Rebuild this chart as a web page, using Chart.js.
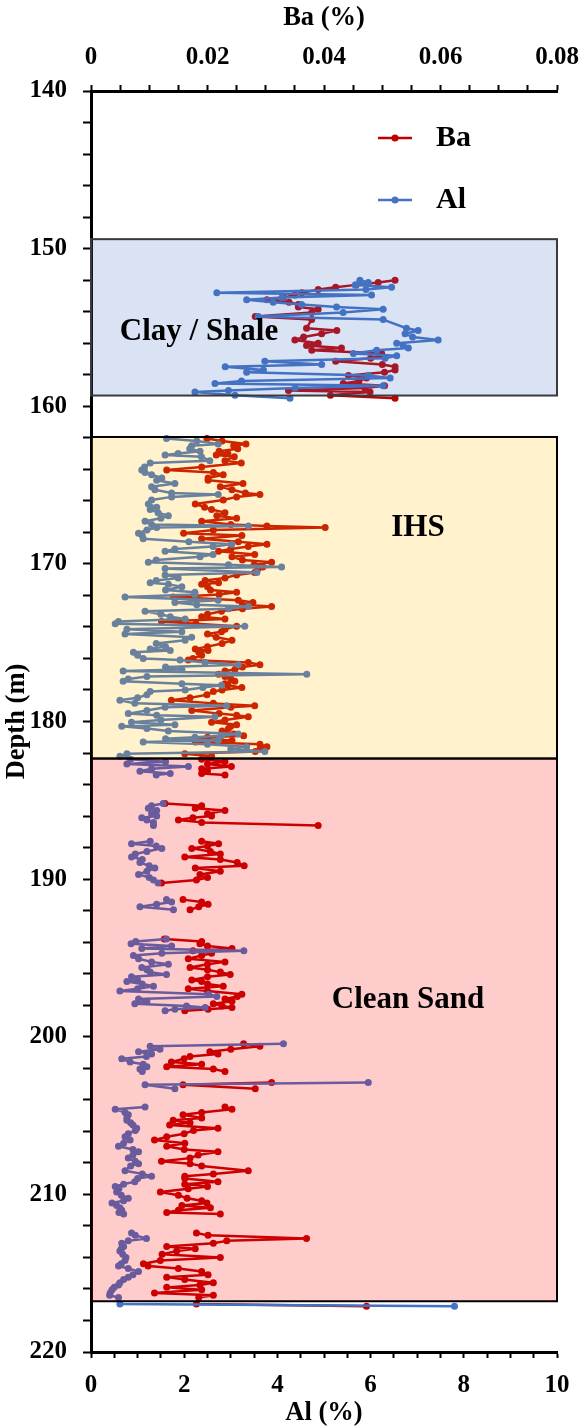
<!DOCTYPE html>
<html lang="en">
<head>
<meta charset="UTF-8">
<title>Ba / Al depth profile</title>
<script src="https://cdn.jsdelivr.net/npm/chart.js@4.4.1/dist/chart.umd.min.js"></script>
<style>
    body { margin: 0; background: #fff; }
    #box { width: 586px; height: 1426px; }
</style>
</head>
<body>
<div id="box"><canvas id="mychart" width="586" height="1426"></canvas></div>
<script>
// depth (m), Ba (%), Al (%) - same sample depths for both elements
const clayDepth = [152.0, 152.15, 152.3, 152.45, 152.6, 152.8, 152.95, 153.1, 153.25, 153.4,
    153.55, 153.7, 153.85, 154.05, 154.3, 154.5, 155.05, 155.2, 155.4, 155.6,
    155.8, 156.0, 156.15, 156.3, 156.45, 156.65, 156.8, 156.95, 157.15, 157.35,
    157.5, 157.7, 157.85, 158.05, 158.2, 158.4, 158.55, 158.7, 158.85, 159.0,
    159.1, 159.3, 159.5]
const clayAl = [5.77, 5.95, 5.67, 6.45, 5.90, 2.70, 6.02, 4.10, 3.34, 3.91,
    4.52, 5.27, 6.27, 5.41, 3.59, 6.27, 6.77, 7.02, 6.74, 6.90,
    7.45, 6.56, 6.70, 6.81, 6.13, 5.63, 6.56, 6.31, 3.73, 4.95,
    2.88, 3.70, 3.34, 5.95, 6.42, 3.23, 2.66, 6.27, 4.38, 2.95,
    2.23, 3.09, 4.27]
const clayBa = [0.0522, 0.0493, 0.0455, 0.0420, 0.0390, 0.0362, 0.0350, 0.0330, 0.0302, 0.0340,
    0.0356, 0.0356, 0.0390, 0.0379, 0.0282, 0.0379, 0.0370, 0.0422, 0.0396, 0.0365,
    0.0350, 0.0390, 0.0370, 0.0430, 0.0379, 0.0499, 0.0500, 0.0480, 0.0420, 0.0500,
    0.0522, 0.0522, 0.0504, 0.0442, 0.0473, 0.0460, 0.0433, 0.0504, 0.0470, 0.0339,
    0.0479, 0.0411, 0.0522]

const ihsDepth = [162.05, 162.2, 162.4, 162.5, 162.7, 162.85, 163.0, 163.1,
    163.2, 163.45, 163.6, 163.85, 164.05, 164.2, 164.35, 164.55,
    164.7, 164.9, 165.1, 165.3, 165.5, 165.6, 165.75, 165.95,
    166.2, 166.4, 166.55, 166.75, 166.95, 167.1, 167.3, 167.5,
    167.6, 167.7, 167.85, 168.05, 168.2, 168.4, 168.6, 168.75,
    168.9, 169.05, 169.2, 169.4, 169.55, 169.75, 169.9, 170.05,
    170.2, 170.3, 170.55, 170.7, 170.9, 171.05, 171.2, 171.3,
    171.45, 171.65, 171.8, 171.95, 172.1, 172.3, 172.45, 172.6,
    172.7, 172.85, 173.0, 173.2, 173.35, 173.5, 173.65, 173.8,
    173.95, 174.15, 174.3, 174.45, 174.65, 174.85, 175.05, 175.25,
    175.4, 175.5, 175.6, 175.8, 176.0, 176.1, 176.25, 176.4,
    176.55, 176.7, 176.8, 177.0, 177.15, 177.3, 177.45, 177.6,
    177.7, 177.85, 178.0, 178.1, 178.3, 178.5, 178.65, 178.85,
    179.0, 179.1, 179.3, 179.5, 179.6, 179.7, 179.9, 180.05,
    180.2, 180.3, 180.45, 180.6, 180.8, 180.9, 181.0, 181.1,
    181.2, 181.3, 181.45, 181.6, 181.75, 181.9, 182.05, 182.2]
const ihsAl = [1.62, 2.27, 2.73, 2.16, 2.12, 2.34, 1.87, 1.59,
    2.37, 2.55, 1.27, 1.15, 1.09, 1.16, 1.30, 1.52,
    1.41, 1.80, 1.30, 1.37, 1.73, 2.73, 1.73, 1.30,
    1.23, 1.41, 1.27, 1.44, 1.66, 1.50, 1.16, 1.30,
    3.38, 1.41, 1.20, 1.02, 1.10, 1.12, 2.10, 3.02,
    2.62, 1.80, 1.59, 2.62, 2.34, 1.40, 1.23, 2.95,
    4.09, 1.59, 3.56, 1.59, 1.87, 1.40, 1.27, 1.66,
    1.95, 1.60, 2.23, 2.23, 0.73, 2.73, 1.80, 2.27,
    3.38, 2.95, 1.16, 1.50, 1.70, 2.02, 0.59, 0.52,
    3.30, 0.77, 1.95, 0.73, 2.16, 2.02, 1.40, 1.60,
    1.27, 1.70, 0.91, 1.00, 1.12, 1.91, 2.45, 3.16,
    1.60, 1.95, 0.69, 4.63, 1.20, 0.80, 0.69, 1.95,
    2.80, 2.40, 2.02, 1.27, 1.20, 1.00, 0.62, 0.94,
    2.91, 1.59, 1.20, 0.80, 1.41, 2.66, 1.50, 0.87,
    1.80, 0.66, 1.20, 1.66, 3.16, 2.80, 2.23, 1.60,
    2.73, 1.12, 2.50, 3.34, 3.00, 3.73, 0.77, 0.62]
const ihsBa = [0.0199, 0.0225, 0.0266, 0.0245, 0.0252, 0.0220, 0.0235, 0.0215,
    0.0246, 0.0230, 0.0258, 0.0190, 0.0130, 0.0210, 0.0227, 0.0201,
    0.0201, 0.0261, 0.0222, 0.0242, 0.0265, 0.0290, 0.0250, 0.0227,
    0.0179, 0.0195, 0.0207, 0.0230, 0.0216, 0.0250, 0.0190, 0.0240,
    0.0302, 0.0402, 0.0210, 0.0159, 0.0259, 0.0190, 0.0253, 0.0302,
    0.0270, 0.0240, 0.0219, 0.0281, 0.0242, 0.0260, 0.0310, 0.0280,
    0.0295, 0.0287, 0.0281, 0.0250, 0.0230, 0.0196, 0.0219, 0.0190,
    0.0200, 0.0205, 0.0250, 0.0220, 0.0141, 0.0253, 0.0278, 0.0260,
    0.0310, 0.0260, 0.0224, 0.0200, 0.0190, 0.0230, 0.0121, 0.0180,
    0.0250, 0.0230, 0.0224, 0.0200, 0.0215, 0.0242, 0.0225, 0.0200,
    0.0179, 0.0201, 0.0185, 0.0190, 0.0175, 0.0167, 0.0270, 0.0290,
    0.0260, 0.0247, 0.0230, 0.0219, 0.0230, 0.0240, 0.0247, 0.0230,
    0.0235, 0.0259, 0.0225, 0.0210, 0.0199, 0.0170, 0.0138, 0.0210,
    0.0281, 0.0240, 0.0173, 0.0220, 0.0250, 0.0270, 0.0230, 0.0207,
    0.0250, 0.0240, 0.0236, 0.0225, 0.0245, 0.0262, 0.0200, 0.0179,
    0.0242, 0.0179, 0.0290, 0.0302, 0.0290, 0.0282, 0.0161, 0.0207]

// null = no samples (line is broken there)
const sandDepth = [182.4, 182.55, 182.7, 182.85, 183.0, 183.15, 183.3, 183.4, null,
    185.2, 185.35, 185.5, 185.65, 185.85, 186.0, 186.1, 186.25, 186.4, 186.6, null,
    187.6, 187.75, 187.9, 188.05, 188.25, 188.4, 188.6, 188.75,
    188.95, 189.15, 189.3, 189.5, 189.7, 189.9, 190.05, 190.25, null,
    191.3, 191.45, 191.6, 191.75, 191.95, null,
    193.8, 193.95, 194.1, 194.25, 194.4, 194.55, 194.7, 194.85, 195.05, 195.25,
    195.4, 195.6, 195.75, 195.9, 196.05, 196.2, 196.4, 196.5, 196.65, 196.8,
    196.95, 197.1, 197.3, 197.45, 197.6, 197.75, 197.9, 198.05, 198.15, 198.25,
    198.35, null,
    200.45, 200.6, 200.8, 200.95, 201.1, 201.25, 201.4, 201.6, 201.75, 201.9,
    202.05, 202.2, null,
    202.9, 203.05, 203.3, null,
    204.45, 204.6, 204.8, 204.95, 205.15, 205.3, 205.45, 205.6, 205.8, 205.95,
    206.15, 206.35, 206.55, 206.75, 206.95, 207.15, 207.3, 207.5, 207.7, 207.9,
    208.05, 208.2, 208.5, 208.7, 208.85, 209.0, 209.2, 209.35, 209.5, 209.65,
    209.85, 210.05, 210.25, 210.4, 210.55, 210.7, 210.85, 211.0, 211.15, 211.25, null,
    212.45, 212.6, 212.8, 212.95, 213.1, 213.3, 213.45, 213.6, 213.8, 214.0,
    214.2, 214.4, 214.55, 214.7, 214.9, 215.1, 215.25, 215.4, 215.6, 215.75,
    215.9, 216.05, 216.25, 216.4, 216.55, 216.95, 217.1]
const sandAl = [0.85, 1.60, 0.77, 2.09, 1.30, 1.05, 1.70, 1.40, null,
    1.55, 1.30, 1.23, 1.41, 1.30, 1.41, 1.09, 1.20, 1.34, 1.34, null,
    1.27, 0.87, 1.40, 1.52, 1.20, 0.95, 0.87, 1.10,
    1.05, 1.25, 1.37, 1.20, 1.02, 1.25, 1.34, 1.44, null,
    1.62, 1.73, 1.41, 1.05, 1.77, null,
    1.62, 0.96, 0.86, 1.73, 1.09, 3.28, 1.52, 0.91, 1.02, 1.30,
    1.66, 1.09, 1.20, 1.27, 1.62, 0.87, 1.00, 0.77, 1.10, 1.34,
    1.00, 0.62, 2.52, 2.70, 1.02, 1.20, 0.94, 2.05, 2.45, 1.80,
    1.59, null,
    4.13, 1.27, 1.48, 1.02, 1.30, 1.19, 0.66, 0.84, 1.12, 1.20,
    1.05, 1.10, null,
    5.95, 1.16, 1.80, null,
    1.16, 0.52, 0.73, 0.80, 0.77, 0.77, 0.85, 0.90, 0.98, 0.95,
    0.80, 0.73, 0.84, 0.70, 0.59, 0.90, 1.02, 0.90, 0.80, 0.95,
    1.02, 0.85, 0.73, 1.10, 1.30, 1.00, 0.94, 0.70, 0.52, 0.60,
    0.55, 0.65, 0.80, 0.70, 0.45, 0.55, 0.62, 0.66, 0.60, 0.70, null,
    0.87, 0.95, 1.19, 0.80, 0.66, 0.70, 0.65, 0.62, 0.68, 0.75,
    0.73, 0.65, 0.59, 0.80, 1.02, 0.90, 0.80, 0.70, 0.62, 0.59,
    0.50, 0.45, 0.41, 0.40, 0.59, 0.62, 7.80]
const sandBa = [0.0190, 0.0230, 0.0200, 0.0241, 0.0190, 0.0200, 0.0190, 0.0230, null,
    0.0127, 0.0190, 0.0179, 0.0230, 0.0200, 0.0207, 0.0175, 0.0150, 0.0190, 0.0390, null,
    0.0190, 0.0219, 0.0200, 0.0173, 0.0205, 0.0222, 0.0161, 0.0222,
    0.0251, 0.0263, 0.0179, 0.0222, 0.0187, 0.0200, 0.0181, 0.0121, null,
    0.0158, 0.0190, 0.0201, 0.0185, 0.0170, null,
    0.0126, 0.0190, 0.0187, 0.0200, 0.0242, 0.0175, 0.0207, 0.0190, 0.0167, 0.0230,
    0.0200, 0.0170, 0.0200, 0.0222, 0.0239, 0.0200, 0.0173, 0.0190, 0.0200, 0.0227,
    0.0167, 0.0200, 0.0259, 0.0251, 0.0230, 0.0242, 0.0210, 0.0225, 0.0242, 0.0201,
    0.0161, null,
    0.0262, 0.0290, 0.0240, 0.0204, 0.0218, 0.0170, 0.0160, 0.0138, 0.0190, 0.0130,
    0.0210, 0.0230, null,
    0.0310, 0.0158, 0.0282, null,
    0.0230, 0.0242, 0.0190, 0.0158, 0.0190, 0.0141, 0.0170, 0.0135, 0.0218, 0.0176,
    0.0160, 0.0130, 0.0109, 0.0161, 0.0130, 0.0160, 0.0218, 0.0184, 0.0170, 0.0121,
    0.0170, 0.0190, 0.0270, 0.0210, 0.0161, 0.0161, 0.0218, 0.0161, 0.0200, 0.0167,
    0.0119, 0.0150, 0.0165, 0.0190, 0.0199, 0.0156, 0.0205, 0.0150, 0.0130, 0.0222, null,
    0.0181, 0.0201, 0.0370, 0.0233, 0.0210, 0.0130, 0.0179, 0.0147, 0.0122, 0.0222,
    0.0119, 0.0090, 0.0098, 0.0150, 0.0190, 0.0201, 0.0130, 0.0161, 0.0210, 0.0187,
    0.0130, 0.0190, 0.0109, 0.0210, 0.0185, 0.0181, 0.0473]

// lithology zones (m)
const zoneNames = ['Clay / Shale', 'IHS', 'Clean Sand']
const zoneTop = [149.4, 161.95, 182.35]
const zoneBase = [159.32, 182.35, 216.78]

const FONT = '"Liberation Serif", "Times New Roman", serif'
const BA_COLOR = '#c00000'
const AL_COLOR = '#4472c4'

function toPoints(depth, vals) {
    return depth.map((d, i) => ({ x: vals[i], y: d }))
}
const gap = { x: null, y: null }
const baData = [...toPoints(clayDepth, clayBa), gap, ...toPoints(ihsDepth, ihsBa), ...toPoints(sandDepth, sandBa)]
const alData = [...toPoints(clayDepth, clayAl), gap, ...toPoints(ihsDepth, ihsAl), ...toPoints(sandDepth, sandAl)]

// zone boxes are see-through and sit on top of the curves
const zoneFill = ['rgba(68,114,196,0.2)', 'rgba(255,192,0,0.2)', 'rgba(255,0,0,0.2)']
const zoneEdge = ['#3a3a3a', '#000', '#000']
const zoneLabel = [[199, 332], [418, 528], [408, 1000]]

const zonePlugin = {
    id: 'zones',
    afterDatasetsDraw(chart) {
        const ctx = chart.ctx
        const area = chart.chartArea
        const y = chart.scales.y
        ctx.save()
        for (let i = 0; i < zoneNames.length; i++) {
            const t = y.getPixelForValue(zoneTop[i])
            const b = y.getPixelForValue(zoneBase[i])
            ctx.fillStyle = zoneFill[i]
            ctx.fillRect(area.left, t, area.right - area.left, b - t)
            ctx.strokeStyle = zoneEdge[i]
            ctx.lineWidth = 2
            ctx.strokeRect(area.left, t, area.right - area.left, b - t)
        }
        ctx.fillStyle = '#000'
        ctx.font = 'bold 31px ' + FONT
        ctx.textAlign = 'center'
        ctx.textBaseline = 'middle'
        for (let i = 0; i < zoneNames.length; i++) {
            ctx.fillText(zoneNames[i], zoneLabel[i][0], zoneLabel[i][1])
        }
        ctx.restore()
    },
    afterDraw(chart) {
        // legend, drawn by hand to sit inside the plot
        const ctx = chart.ctx
        const items = [['Ba', BA_COLOR, 138], ['Al', AL_COLOR, 200]]
        ctx.save()
        items.forEach(function (it) {
            ctx.strokeStyle = it[1]
            ctx.fillStyle = it[1]
            ctx.lineWidth = 2.5
            ctx.beginPath()
            ctx.moveTo(378, it[2])
            ctx.lineTo(412, it[2])
            ctx.stroke()
            ctx.beginPath()
            ctx.arc(395, it[2], 3.5, 0, Math.PI * 2)
            ctx.fill()
            ctx.fillStyle = '#000'
            ctx.font = 'bold 30px ' + FONT
            ctx.textAlign = 'left'
            ctx.textBaseline = 'middle'
            ctx.fillText(it[0], 436, it[2])
        })
        ctx.restore()
    }
}

// fixed axis sizes so the plot box lands where the original one is
function fitX(h) {
    return function (s) {
        s.height = h
        s.paddingLeft = 0
        s.paddingRight = 0
    }
}

const tickFont = { family: FONT, size: 25, weight: 'bold' }
const titleFont = { family: FONT, size: 26.5, weight: 'bold', lineHeight: 1 }
const axisGrid = { drawOnChartArea: false, drawTicks: true, tickLength: 6, tickWidth: 2, color: '#000' }
const axisBorder = { display: true, color: '#000', width: 3 }

new Chart(document.getElementById('mychart'), {
    type: 'scatter',
    data: {
        datasets: [{
            label: 'Al',
            data: alData,
            xAxisID: 'xAl',
            showLine: true,
            spanGaps: false,
            order: 0,
            borderColor: AL_COLOR,
            backgroundColor: AL_COLOR,
            borderWidth: 2.5,
            borderJoinStyle: 'round',
            pointRadius: 3.5,
            pointBorderWidth: 0,
            pointBackgroundColor: AL_COLOR
        }, {
            label: 'Ba',
            data: baData,
            xAxisID: 'xBa',
            showLine: true,
            spanGaps: false,
            order: 1,
            borderColor: BA_COLOR,
            backgroundColor: BA_COLOR,
            borderWidth: 2.5,
            borderJoinStyle: 'round',
            pointRadius: 3.5,
            pointBorderWidth: 0,
            pointBackgroundColor: BA_COLOR
        }]
    },
    options: {
        responsive: false,
        animation: false,
        devicePixelRatio: 1,
        layout: { padding: { left: 0, right: 29, top: 0, bottom: 0 } },
        plugins: { legend: { display: false }, tooltip: { enabled: false } },
        scales: {
            xBa: {
                type: 'linear', position: 'top', min: 0, max: 0.08,
                afterFit: fitX(91),
                grid: axisGrid, border: axisBorder,
                ticks: {
                    stepSize: 0.005, autoSkip: false, maxRotation: 0, padding: 12,
                    color: '#000', font: tickFont,
                    callback: function (v) {
                        const k = Math.round(v * 1000)
                        if (k % 20 != 0) return ''
                        return k == 0 ? '0' : (k / 1000).toFixed(2)
                    }
                },
                title: { display: true, text: 'Ba (%)', color: '#000', font: titleFont, padding: { top: 5, bottom: 0 } }
            },
            xAl: {
                type: 'linear', position: 'bottom', min: 0, max: 10,
                afterFit: fitX(74),
                grid: axisGrid, border: axisBorder,
                ticks: {
                    stepSize: 0.5, autoSkip: false, maxRotation: 0, padding: 13,
                    color: '#000', font: tickFont,
                    callback: function (v) {
                        return Math.round(v * 10) % 20 == 0 ? String(Math.round(v)) : ''
                    }
                },
                title: { display: true, text: 'Al (%)', color: '#000', font: titleFont, padding: { top: 0, bottom: 0 } }
            },
            y: {
                type: 'linear', position: 'left', min: 140, max: 220, reverse: true,
                afterFit: function (s) { s.width = 91 },
                grid: { drawOnChartArea: false, drawTicks: true, tickLength: 8, tickWidth: 2, color: '#000' },
                border: axisBorder,
                ticks: {
                    stepSize: 2, autoSkip: false, padding: 16,
                    color: '#000', font: tickFont,
                    callback: function (v) { return v % 10 == 0 ? String(v) : '' }
                },
                title: { display: true, text: 'Depth (m)', color: '#000', font: titleFont, padding: { top: 4, bottom: 0 } }
            }
        }
    },
    plugins: [zonePlugin]
})
</script>
</body>
</html>
